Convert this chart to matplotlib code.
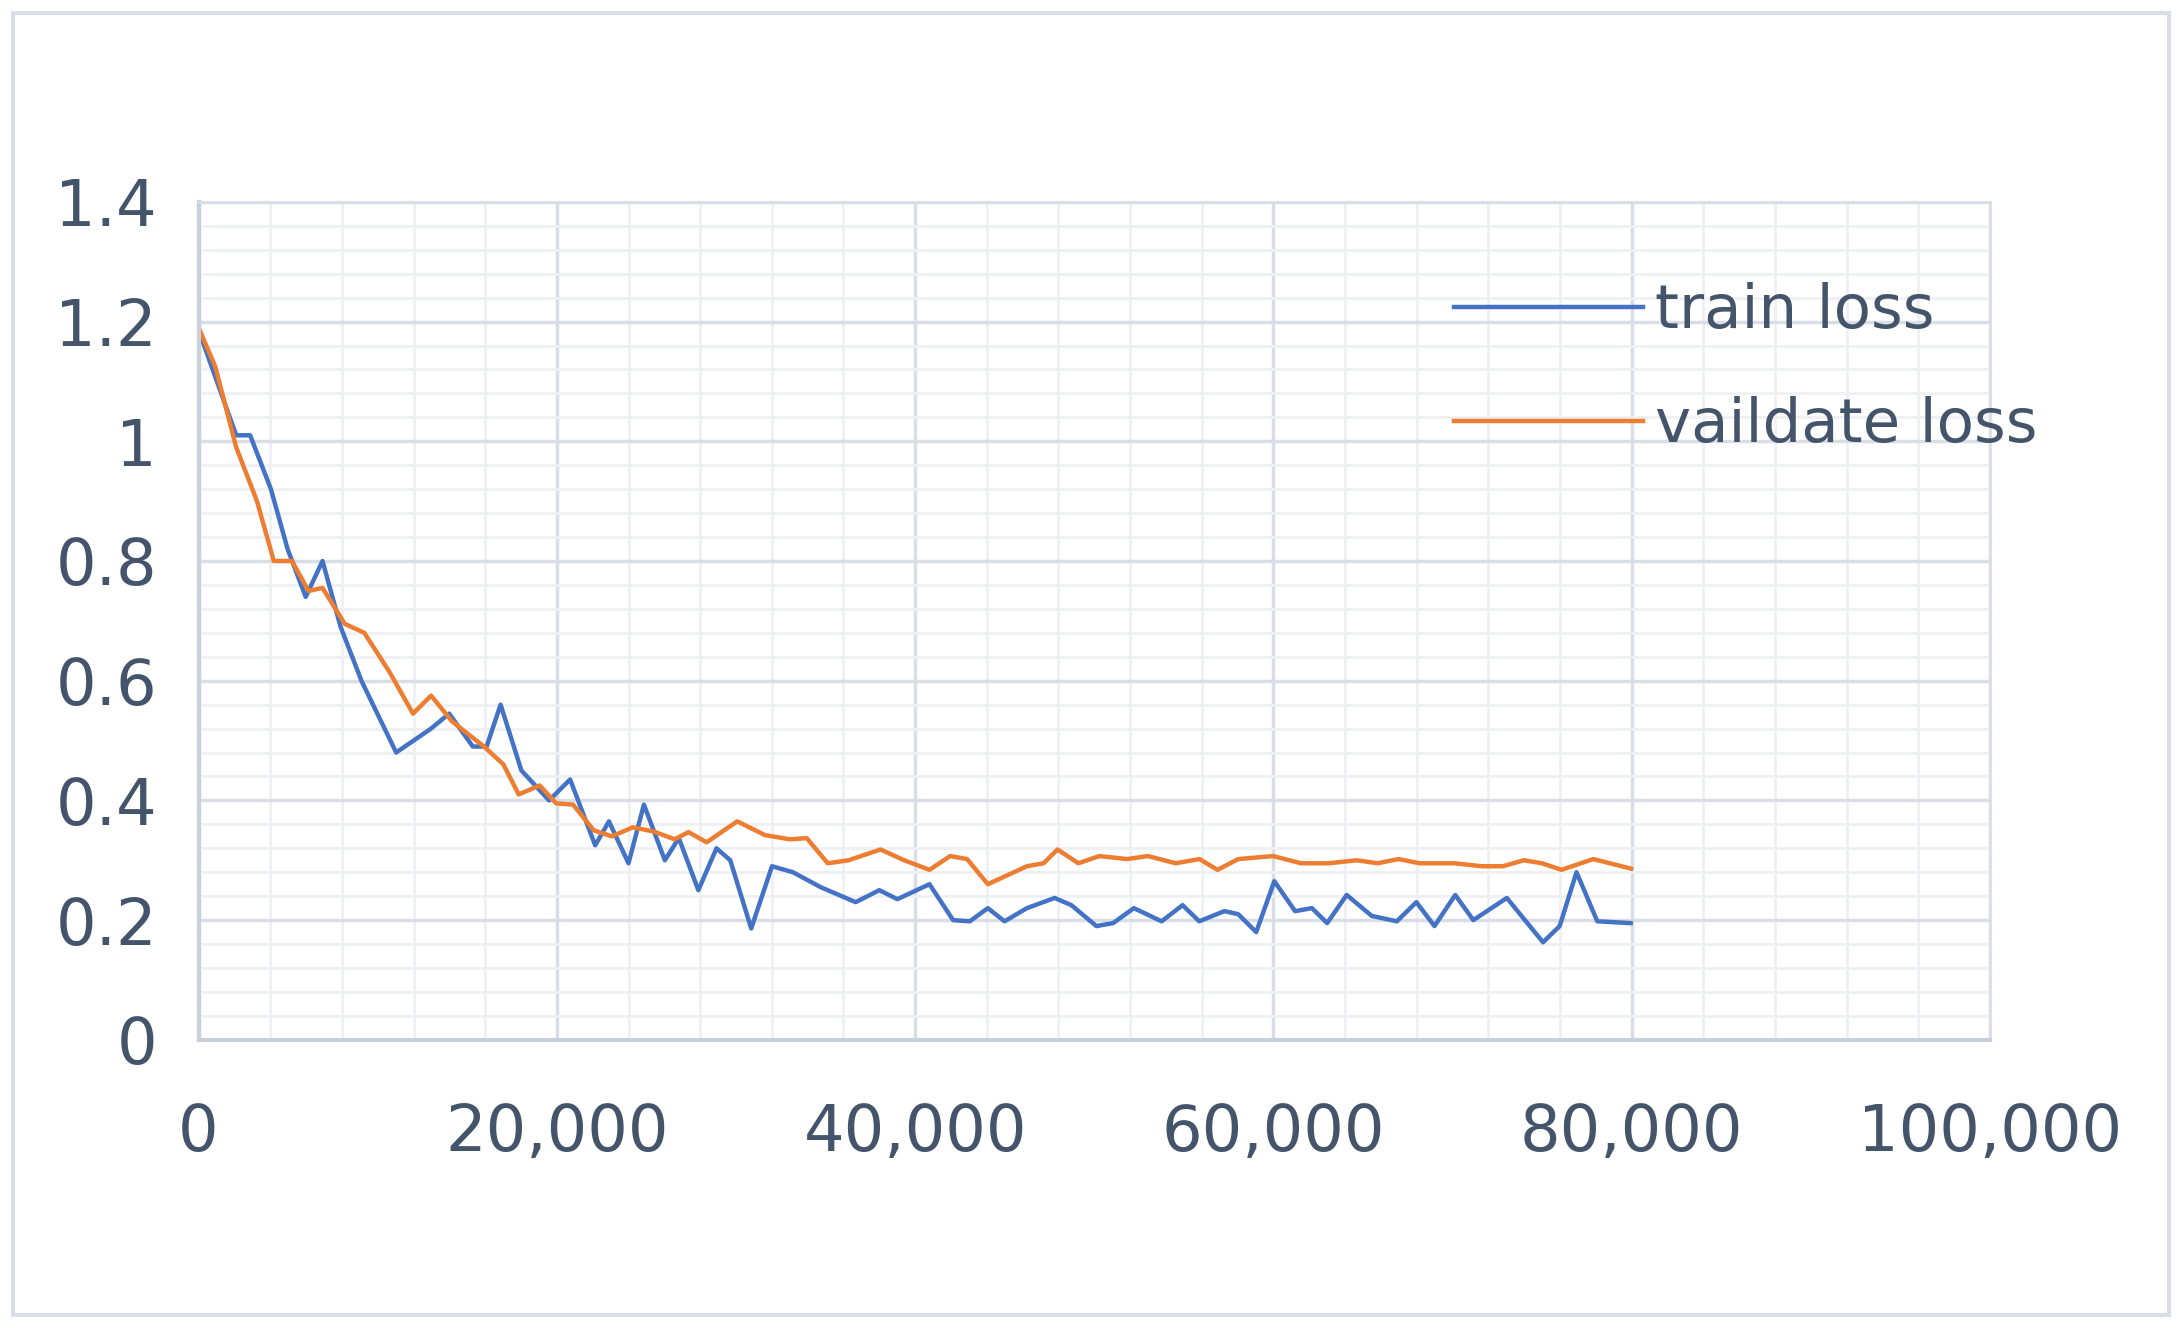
import matplotlib
matplotlib.use("Agg")
import matplotlib.pyplot as plt
from matplotlib.ticker import MultipleLocator, FuncFormatter
from matplotlib.patches import Rectangle

train_x = [0,2100,2880,4040,4970,5980,6920,7930,9090,11030,
           12980,13990,15310,16080,16860,18020,19570,20740,22140,22910,
           24000,24860,26030,26810,27900,28910,29680,30850,32010,33180,
           34730,36680,38000,39010,40800,42120,43050,44060,44990,46240,
           47790,48720,50120,51050,52210,53760,54930,55860,57260,58030,
           59040,60050,61210,62150,63000,64090,65490,66890,67980,68990,
           70150,71160,73030,74040,75050,75980,76920,78080,79940]
train_loss = [1.186,1.01,1.01,0.92,0.82,0.74,0.80,0.69,0.60,0.48,
              0.52,0.545,0.49,0.49,0.56,0.45,0.40,0.435,0.325,0.365,
              0.295,0.393,0.30,0.337,0.25,0.32,0.30,0.186,0.29,0.28,
              0.255,0.23,0.25,0.235,0.26,0.20,0.198,0.22,0.198,0.22,
              0.237,0.225,0.19,0.195,0.22,0.198,0.225,0.198,0.215,0.21,
              0.18,0.265,0.215,0.22,0.195,0.242,0.207,0.198,0.23,0.19,
              0.242,0.2,0.237,0.2,0.163,0.19,0.28,0.198,0.195]
val_x = [0,930,2100,3260,4200,5210,6140,6920,8160,9250,
         10650,11970,12980,14150,15930,17020,17870,19040,19970,20900,
         22060,23070,24240,25410,26570,27350,28360,30070,31620,33020,
         33950,35120,36280,38070,39390,40800,41960,42900,44060,46240,
         47170,47950,49110,50280,51830,52990,54550,55870,56880,58040,
         59980,61540,63090,64650,65820,66980,68140,70090,71640,72810,
         73980,74990,76080,77860,79960]
val_loss = [1.19,1.125,0.99,0.90,0.80,0.80,0.75,0.755,0.695,0.68,
            0.615,0.545,0.575,0.532,0.49,0.46,0.41,0.425,0.395,0.393,
            0.35,0.34,0.355,0.348,0.335,0.347,0.33,0.365,0.342,0.335,
            0.337,0.295,0.30,0.318,0.30,0.284,0.307,0.302,0.26,0.29,
            0.295,0.318,0.295,0.307,0.302,0.307,0.295,0.302,0.284,0.302,
            0.307,0.295,0.295,0.30,0.295,0.302,0.295,0.295,0.29,0.29,
            0.30,0.295,0.284,0.302,0.286]

txt = "#44546A"
fig = plt.figure(figsize=(21.82, 13.28), dpi=100)
fig.patches.append(Rectangle((0.006, 0.01), 0.988, 0.98, transform=fig.transFigure,
                             fill=False, edgecolor="#D9DEE6", linewidth=3))
ax = fig.add_axes([0.091, 0.217, 0.821, 0.631])
ax.plot(train_x, train_loss, color="#4472C4", lw=3.2, label="train loss")
ax.plot(val_x, val_loss, color="#ED7D31", lw=3.2, label="vaildate loss")
ax.set_xlim(0, 100000)
ax.set_ylim(0, 1.4)
ax.xaxis.set_major_locator(MultipleLocator(20000))
ax.xaxis.set_minor_locator(MultipleLocator(4000))
ax.yaxis.set_major_locator(MultipleLocator(0.2))
ax.yaxis.set_minor_locator(MultipleLocator(0.04))
ax.xaxis.set_major_formatter(FuncFormatter(lambda v, p: f"{int(v):,}"))
ax.yaxis.set_major_formatter(FuncFormatter(lambda v, p: f"{v:g}"))
ax.grid(which="major", color="#D9DEE6", lw=2.5)
ax.grid(which="minor", color="#EEF0F4", lw=2)
ax.set_axisbelow(True)
for s in ["top", "right"]:
    ax.spines[s].set_color("#D9DEE6"); ax.spines[s].set_linewidth(2)
for s in ["left", "bottom"]:
    ax.spines[s].set_color("#C8D0DC"); ax.spines[s].set_linewidth(3)
ax.tick_params(which="both", length=0, labelsize=46, colors=txt)
ax.tick_params(axis="x", pad=45)
ax.tick_params(axis="y", pad=30)
leg = ax.legend(loc="upper left", bbox_to_anchor=(0.67, 0.97), fontsize=44,
                frameon=False, labelspacing=0.9, handlelength=3.1, handletextpad=0.2)
for t in leg.get_texts():
    t.set_color(txt)
fig.savefig("out.png", dpi=100)
